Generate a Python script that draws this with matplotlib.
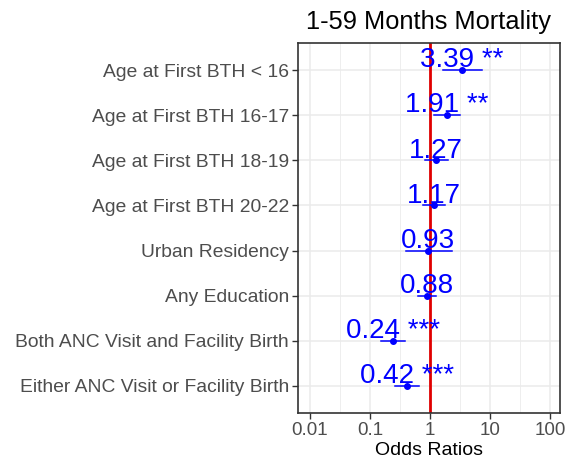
import numpy as np
import matplotlib.pyplot as plt
from matplotlib.ticker import FixedLocator, NullFormatter

plt.rcParams['font.family'] = ['Liberation Sans', 'DejaVu Sans']

# Data (top to bottom)
labels = ['Age at First BTH < 16', 'Age at First BTH 16-17', 'Age at First BTH 18-19',
          'Age at First BTH 20-22', 'Urban Residency', 'Any Education',
          'Both ANC Visit and Facility Birth', 'Either ANC Visit or Facility Birth']
odds = [3.39, 1.91, 1.27, 1.17, 0.93, 0.88, 0.24, 0.42]
ci_low = [1.67, 1.17, 0.82, 0.77, 0.40, 0.62, 0.15, 0.26]
ci_high = [7.26, 3.16, 1.97, 1.80, 2.30, 1.24, 0.39, 0.66]
stars = ['**', '**', '', '', '', '', '***', '***']

xticks = [0.01, 0.1, 1, 10, 100]
xtick_labels = ['0.01', '0.1', '1', '10', '100']
minor_ticks = [10 ** -1.5, 10 ** -0.5, 10 ** 0.5, 10 ** 1.5]

fig = plt.figure(figsize=(5.69, 4.65), dpi=100)
ax = fig.add_axes([298 / 569, 1 - 413 / 465, 262 / 569, 370 / 465])

n = len(labels)
ypos = np.arange(n)[::-1]

ax.set_xscale('log')
ax.set_xlim(10 ** -2.2, 10 ** 2.167)
ax.set_ylim(-0.6, n - 1 + 0.6)

# grid
for x in xticks:
    ax.axvline(x, color='#EBEBEB', lw=1.1, zorder=0)
for x in minor_ticks:
    ax.axvline(x, color='#EBEBEB', lw=0.6, zorder=0)
for y in ypos:
    ax.axhline(y, color='#EBEBEB', lw=1.1, zorder=0)

ax.axvline(1, color='#E00000', lw=2, zorder=2)

for y, o, lo, hi, s in zip(ypos, odds, ci_low, ci_high, stars):
    ax.plot([lo, hi], [y, y], color='#0000FF', lw=1.1, zorder=3)
    ax.plot(o, y, 'o', color='#0000FF', ms=4, zorder=4)
    txt = f'{o:.2f} {s}' if s else f'{o:.2f}'
    ax.annotate(txt, (o, y), xytext=(0, 2), textcoords='offset points',
                ha='center', va='baseline', color='#0000FF', fontsize=20, zorder=5)

ax.set_xticks(xticks)
ax.set_xticklabels(xtick_labels)
ax.xaxis.set_minor_locator(FixedLocator([]))
ax.xaxis.set_minor_formatter(NullFormatter())
ax.set_yticks(ypos)
ax.set_yticklabels(labels)
ax.tick_params(axis='both', colors='#333333', labelcolor='#4D4D4D',
               length=4, width=1, direction='out', pad=2.5)
ax.tick_params(axis='y', labelsize=13.9)
ax.tick_params(axis='x', labelsize=13.5)

for sp in ax.spines.values():
    sp.set_color('#333333')
    sp.set_linewidth(1.2)

ax.set_xlabel('Odds Ratios', fontsize=14, color='black', labelpad=2)
ax.set_title('1-59 Months Mortality', fontsize=18.3, color='black', pad=10)

fig.savefig('out.png', dpi=100)
